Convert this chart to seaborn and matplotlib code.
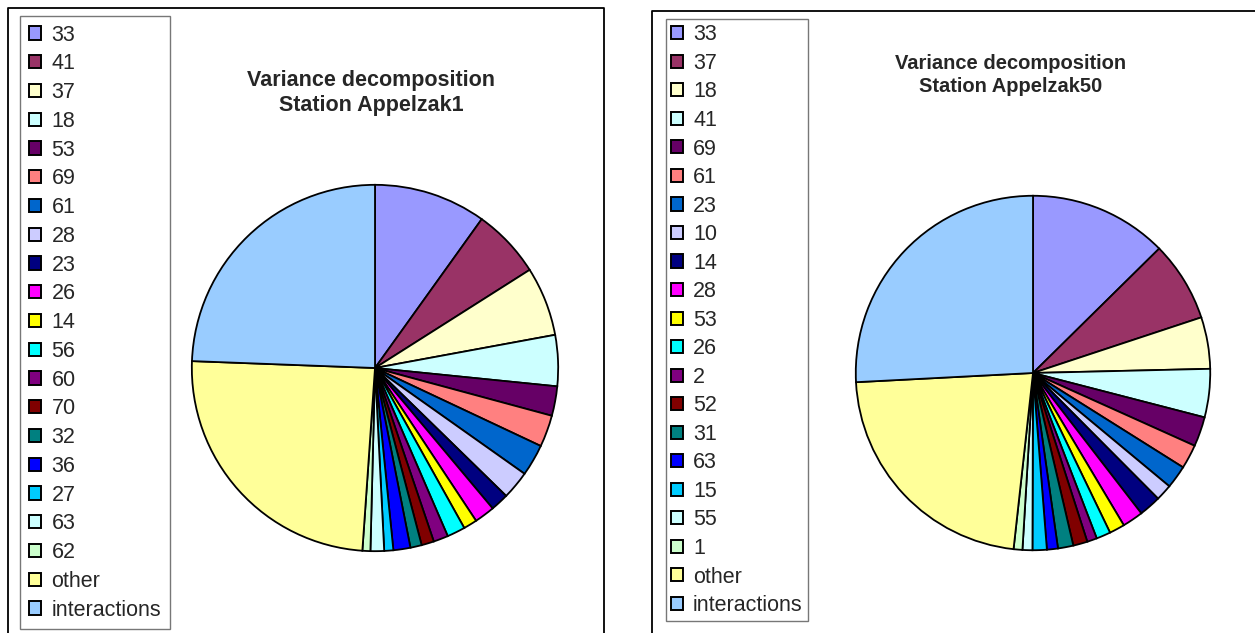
import matplotlib
matplotlib.use("Agg")
import matplotlib.pyplot as plt
from matplotlib.lines import Line2D
import seaborn as sns

# Data (percent of variance)
labels_a1 = ["33", "41", "37", "18", "53", "69", "61", "28", "23", "26", "14",
             "56", "60", "70", "32", "36", "27", "63", "62", "other", "interactions"]
values_a1 = [9.9, 6.1, 6.1, 4.5, 2.6, 2.8, 2.8, 2.5, 1.6, 1.8, 1.2,
             1.6, 1.3, 1.1, 1.0, 1.5, 0.8, 1.2, 0.7, 24.5, 24.4]

labels_a50 = ["33", "37", "18", "41", "69", "61", "23", "10", "14", "28", "53",
              "26", "2", "52", "31", "63", "15", "55", "1", "other", "interactions"]
values_a50 = [12.6, 7.3, 4.7, 4.4, 2.7, 2.2, 2.1, 1.5, 2.0, 1.9, 1.4,
              1.3, 0.9, 1.3, 1.4, 1.0, 1.3, 0.9, 0.8, 22.4, 25.8]

# Excel-style series palette
colors = sns.color_palette([
    "#9999FF", "#993366", "#FFFFCC", "#CCFFFF", "#660066", "#FF8080", "#0066CC",
    "#CCCCFF", "#000080", "#FF00FF", "#FFFF00", "#00FFFF", "#800080", "#800000",
    "#008080", "#0000FF", "#00CCFF", "#CCFFFF", "#CCFFCC", "#FFFF99", "#99CCFF",
])

sns.set_style("white")
plt.rcParams["font.family"] = ["Liberation Sans", "DejaVu Sans"]

W, H = 1255, 633
fig = plt.figure(figsize=(W / 100, H / 100), dpi=100)


def px_axes(cx, cy, r):
    return fig.add_axes([(cx - r) / W, (H - cy - r) / H, 2 * r / W, 2 * r / H])


def draw_panel(cx, cy, r, values, labels, title, tx, ty, tsize, legend_xy,
               textpad, spacing, pad):
    ax = px_axes(cx, cy, r)
    wedges, _ = ax.pie(values, colors=colors, startangle=90, counterclock=False,
                       radius=1.0, wedgeprops=dict(edgecolor="black", linewidth=1.3))
    ax.set_xlim(-1.01, 1.01)
    ax.set_ylim(-1.01, 1.01)
    ax.set_aspect("equal")
    ax.axis("off")
    fig.text(tx / W, 1 - ty / H, title, ha="center", va="center",
             fontsize=tsize, fontweight="bold", linespacing=1.3)
    leg = fig.legend(wedges, labels, loc="upper left",
                     bbox_to_anchor=(legend_xy[0] / W, 1 - legend_xy[1] / H),
                     bbox_transform=fig.transFigure, borderaxespad=0,
                     fontsize=15.5, handlelength=0.56, handleheight=0.56,
                     handletextpad=textpad, labelspacing=spacing, borderpad=pad,
                     fancybox=False, frameon=True)
    leg.get_frame().set_edgecolor("#555555")
    leg.get_frame().set_linewidth(1.0)
    for h in leg.legend_handles:
        h.set_edgecolor("black")
        h.set_linewidth(1.4)
    return ax


draw_panel(375, 368, 185, values_a1, labels_a1,
           "Variance decomposition\nStation Appelzak1", 371, 93, 15.5,
           (20, 16), 0.5, 0.36, 0.4)
draw_panel(1033, 373, 179, values_a50, labels_a50,
           "Variance decomposition\nStation Appelzak50", 1011, 75, 14.5,
           (666, 19), 0.45, 0.35, 0.25)

# outer chart-area frames (they run off the bottom/right of the image)
fig.add_artist(Line2D([8 / W, 8 / W, 604 / W, 604 / W], [-0.1, 1 - 8 / H, 1 - 8 / H, -0.1],
                      transform=fig.transFigure, color="black", linewidth=1.3))
fig.add_artist(Line2D([652 / W, 652 / W, 1.1], [-0.1, 1 - 11 / H, 1 - 11 / H],
                      transform=fig.transFigure, color="black", linewidth=1.3))

fig.savefig("out.png", dpi=100, facecolor="white")
